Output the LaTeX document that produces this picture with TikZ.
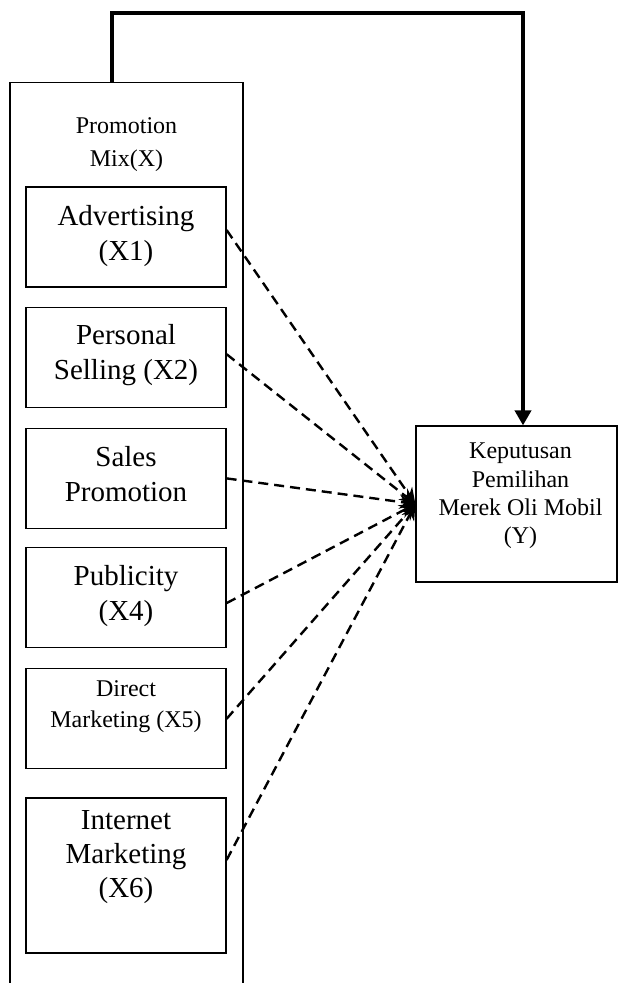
\documentclass[tikz,border=0pt]{standalone}
\usepackage{fontspec}
\setmainfont{Liberation Serif}
\usetikzlibrary{positioning, arrows.meta}

\begin{document}
\begin{tikzpicture}[x=0.5pt, y=-0.5pt,
        frame/.style={draw, line width=0.6pt, minimum width=116.5pt, minimum height=462pt, inner sep=0pt, anchor=north},
        itembox/.style={draw, line width=0.6pt, minimum width=100pt, minimum height=50pt, inner sep=0pt},
        bigtext/.style={align=center, inner sep=0pt, font=\fontsize{14.5pt}{17.5pt}\selectfont},
        smalltext/.style={align=center, inner sep=0pt, font=\fontsize{12pt}{16pt}\selectfont},
        link/.style={line width=1.2pt, dash pattern=on 5pt off 3pt, -{Stealth[length=8pt,width=7pt]}},
        feedback/.style={line width=2pt, -{Triangle[length=7.5pt,width=8pt]}}]
        \useasboundingbox (0,0) rectangle (619,983);

        % promotion mix
        \node [frame] (mix) at (126.5,82) {};
        \node [smalltext, font=\fontsize{12pt}{16.5pt}\selectfont] (mixT) at ([yshift=-31.25pt]mix.north) { Promotion\\Mix(X) };

        \node [itembox] (adv) at (126,237) {};
        \node [itembox, below=9.5pt of adv] (pers) {};
        \node [itembox, below=10pt of pers] (sales) {};
        \node [itembox, below=9pt of sales] (pub) {};
        \node [itembox, below=10pt of pub] (direct) {};
        \node [itembox, below=14pt of direct, minimum height=77.5pt] (inet) {};

        \node [bigtext] (advT) at ([yshift=0.5pt]adv.center) { Advertising\\(X1) };
        \node [bigtext] (persT) at ([yshift=1.25pt]pers.center) { Personal\\Selling (X2) };
        \node [bigtext] (salesT) at ([yshift=2pt]sales.center) { Sales\\Promotion };
        \node [bigtext] (pubT) at ([yshift=0.75pt]pub.center) { Publicity\\(X4) };
        \node [smalltext, font=\fontsize{12pt}{15.5pt}\selectfont] (directT) at ([yshift=6.25pt]direct.center) { Direct\\Marketing (X5) };
        \node [bigtext, font=\fontsize{14.5pt}{17pt}\selectfont] (inetT) at ([yshift=9pt]inet.center) { Internet\\Marketing\\(X6) };

        % keputusan
        \node [itembox, minimum width=100.5pt, minimum height=78pt] (Y) at (516.5,504) {};
        \node [smalltext, font=\fontsize{12pt}{14.2pt}\selectfont] (YT) at ([xshift=2pt, yshift=4pt]Y.center) { Keputusan\\Pemilihan\\Merek Oli Mobil\\(Y) };

        \draw [feedback] ([xshift=-7.25pt]mix.north) -- ++(0,-69) -| ([xshift=3.25pt]Y.north);

        \draw [link] ([yshift=3.5pt]adv.east) -- (Y.west);
        \draw [link] ([yshift=1.5pt]pers.east) -- (Y.west);
        \draw [link] (sales.east) -- (Y.west);
        \draw [link] ([yshift=-2.75pt]pub.east) -- (Y.west);
        \draw [link] (direct.east) -- (Y.west);
        \draw [link] ([yshift=7.75pt]inet.east) -- (Y.west);
\end{tikzpicture}
\end{document}
